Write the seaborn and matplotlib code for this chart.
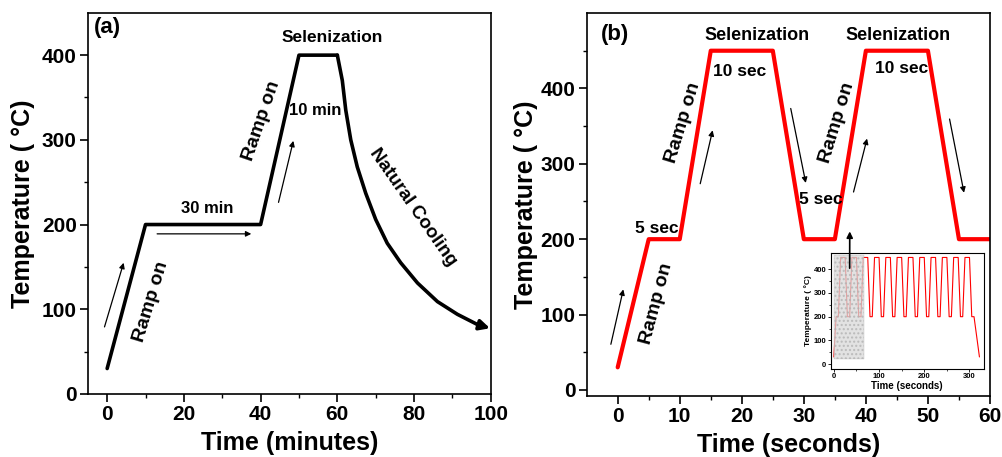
import matplotlib
matplotlib.use("Agg")
import matplotlib.pyplot as plt
import seaborn as sns

# (a) selenization profile in minutes
time_a = [0, 10, 40, 50, 60]
temp_a = [30, 200, 200, 400, 400]
# natural cooling tail
cool_time = [60, 61.3, 62.2, 63.5, 65.2, 67.4, 70, 73, 76.5, 80.9, 86.1, 91.3, 96.5]
cool_temp = [400, 370, 335, 300, 268, 237, 206, 178, 155, 131, 109, 94, 82]
cool_end = (99.8, 77.5)

# (b) rapid selenization profile in seconds
time_b = [0, 5, 10, 15, 25, 30, 35, 40, 50, 55, 60]
temp_b = [30, 200, 200, 450, 450, 200, 200, 450, 450, 200, 200]

# inset: full run of 12 cycles
time_in = [0, 5, 10, 15, 25, 30, 35, 40, 50, 55, 60, 65, 75, 80, 85, 90, 100, 105,
           110, 115, 125, 130, 135, 140, 150, 155, 160, 165, 175, 180, 185, 190, 200,
           205, 210, 215, 225, 230, 235, 240, 250, 255, 260, 265, 275, 280, 285, 290,
           300, 305, 310, 322]
temp_in = [30, 200, 200, 450, 450, 200, 200, 450, 450, 200, 200, 450, 450, 200, 200,
           450, 450, 200, 200, 450, 450, 200, 200, 450, 450, 200, 200, 450, 450, 200,
           200, 450, 450, 200, 200, 450, 450, 200, 200, 450, 450, 200, 200, 450, 450,
           200, 200, 450, 450, 200, 200, 30]
zoom_span = [1, 66]
zoom_temp = [20, 460]

# annotations: text, x, y, rotation, size
labels_a = [("(a)", 0, 433, 0, 16), ("Selenization", 58.7, 421, 0, 12.5),
            ("30 min", 26, 219, 0, 12), ("10 min", 54.3, 335, 0, 12),
            ("Ramp on", 11.5, 109, 73, 14), ("Ramp on", 40.2, 323, 71, 14),
            ("Natural Cooling", 79.6, 221, -55, 13.5)]
labels_b = [("(b)", -0.4, 471, 0, 16), ("Selenization", 22.4, 470, 0, 13),
            ("Selenization", 45.2, 470, 0, 13), ("10 sec", 19.6, 423, 0, 12.5),
            ("10 sec", 45.7, 427, 0, 12.5), ("5 sec", 6.3, 214, 0, 12.5),
            ("5 sec", 32.7, 252, 0, 12.5), ("Ramp on", 6.3, 115, 75, 14),
            ("Ramp on", 10.5, 354, 73, 14), ("Ramp on", 35.3, 354, 73, 14)]
# arrows: start -> end
arrows_a = [((-0.9, 76), (4.5, 158)), ((12.3, 189), (38.3, 189)), ((44.5, 223), (48.7, 302))]
arrows_b = [((-1.2, 57), (1.0, 137)), ((13.2, 270), (15.4, 348)), ((27.8, 377), (30.4, 271)),
            ((37.9, 259), (40.3, 337)), ((53.4, 363), (55.9, 258))]

sns.set_style("ticks")
plt.rcParams['font.family'] = ['Liberation Sans', 'DejaVu Sans']
plt.rcParams['font.weight'] = 'bold'
plt.rcParams['axes.labelweight'] = 'bold'
for key in ['text.color', 'axes.labelcolor', 'xtick.color', 'ytick.color', 'axes.edgecolor']:
    plt.rcParams[key] = 'black'

fig = plt.figure(figsize=(10.02, 4.57), dpi=100)
ax_a = fig.add_axes([0.0878, 0.138, 0.402, 0.834])
ax_b = fig.add_axes([0.5855, 0.1335, 0.4025, 0.838])
ax_in = fig.add_axes([0.829, 0.193, 0.153, 0.254])

# panel (a)
sns.lineplot(x=time_a, y=temp_a, ax=ax_a, color="black", linewidth=2.6, estimator=None)
sns.lineplot(x=cool_time, y=cool_temp, ax=ax_a, color="black", linewidth=2.6, estimator=None)
ax_a.annotate("", xy=cool_end, xytext=(cool_time[-1], cool_temp[-1]), annotation_clip=False,
              arrowprops=dict(arrowstyle="-|>", lw=2.6, color="black", mutation_scale=15,
                              shrinkA=0, shrinkB=0))
ax_a.set_xlim(-5, 100)
ax_a.set_ylim(0, 450)
ax_a.set_xticks([0, 20, 40, 60, 80, 100])
ax_a.set_xticks(range(10, 100, 20), minor=True)
ax_a.set_yticks([0, 100, 200, 300, 400])
ax_a.set_yticks([50, 150, 250, 350], minor=True)
ax_a.set_xlabel("Time (minutes)", fontsize=18, labelpad=5)
ax_a.set_ylabel("Temperature ( °C)", fontsize=18, labelpad=5)
for txt, x, y, rot, fs in labels_a:
    ax_a.text(x, y, txt, rotation=rot, fontsize=fs, ha="center", va="center",
              fontweight="bold", rotation_mode="anchor")
for (x0, y0), (x1, y1) in arrows_a:
    ax_a.annotate("", xy=(x1, y1), xytext=(x0, y0),
                  arrowprops=dict(arrowstyle="-|>", lw=0.9, color="black", mutation_scale=8))

# panel (b)
sns.lineplot(x=time_b, y=temp_b, ax=ax_b, color="red", linewidth=3, estimator=None)
ax_b.set_xlim(-5, 60)
ax_b.set_ylim(-8, 500)
ax_b.set_xticks([0, 10, 20, 30, 40, 50, 60])
ax_b.set_xticks([5, 15, 25, 35, 45, 55], minor=True)
ax_b.set_yticks([0, 100, 200, 300, 400])
ax_b.set_yticks([50, 150, 250, 350, 450], minor=True)
ax_b.set_xlabel("Time (seconds)", fontsize=18, labelpad=5)
ax_b.set_ylabel("Temperature ( °C)", fontsize=18, labelpad=2)
for txt, x, y, rot, fs in labels_b:
    ax_b.text(x, y, txt, rotation=rot, fontsize=fs, ha="center", va="center",
              fontweight="bold", rotation_mode="anchor")
for (x0, y0), (x1, y1) in arrows_b:
    ax_b.annotate("", xy=(x1, y1), xytext=(x0, y0),
                  arrowprops=dict(arrowstyle="-|>", lw=0.9, color="black", mutation_scale=8))

for ax in (ax_a, ax_b):
    for sp in ax.spines.values():
        sp.set_visible(True)
        sp.set_linewidth(1.2)
    ax.tick_params(which="major", direction="out", length=6, width=1.2, labelsize=15, pad=2)
    ax.tick_params(which="minor", direction="out", length=3, width=1.0)
    for lab in ax.get_xticklabels() + ax.get_yticklabels():
        lab.set_fontweight("bold")

# inset
sns.lineplot(x=time_in, y=temp_in, ax=ax_in, color="red", linewidth=0.8, estimator=None)
ax_in.fill_between(zoom_span, zoom_temp[0], zoom_temp[1], facecolor="#d9d9d9",
                   edgecolor="#b0b0b0", hatch="....", linewidth=0.3, alpha=0.75, zorder=3)
ax_in.set_xlim(-7, 332)
ax_in.set_ylim(-20, 470)
ax_in.set_xticks([0, 100, 200, 300])
ax_in.set_xticks([50, 150, 250], minor=True)
ax_in.set_yticks([0, 100, 200, 300, 400])
ax_in.set_yticks([50, 150, 250, 350], minor=True)
ax_in.set_xlabel("Time (seconds)", fontsize=7, labelpad=1)
ax_in.set_ylabel("Temperature ( °C)", fontsize=6, labelpad=1)
for sp in ax_in.spines.values():
    sp.set_visible(True)
    sp.set_linewidth(0.8)
ax_in.tick_params(which="major", direction="out", length=2, width=0.6, labelsize=5.5, pad=1)
ax_in.tick_params(which="minor", direction="out", length=1.2, width=0.5)
for lab in ax_in.get_xticklabels() + ax_in.get_yticklabels():
    lab.set_fontweight("bold")

# arrow from inset up to the main curve
ax_in.annotate("", xy=(37.4, 214), xycoords=ax_b.transData,
               xytext=(35, 393), textcoords=ax_in.transData, annotation_clip=False,
               arrowprops=dict(arrowstyle="-|>", lw=1.2, color="black", mutation_scale=9))

fig.savefig("out.png", dpi=100)
